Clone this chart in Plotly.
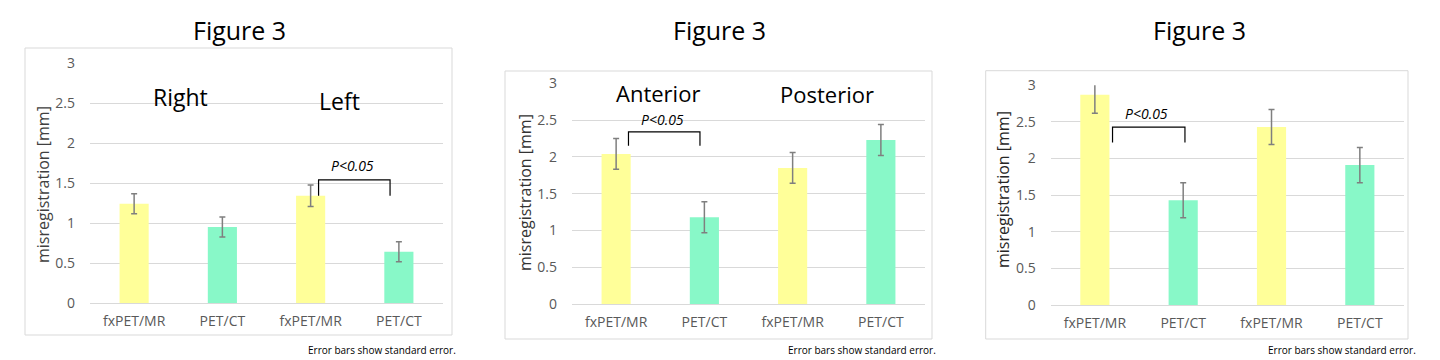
import plotly.graph_objects as go

categories = ["fxPET/MR", "PET/CT", "fxPET/MR", "PET/CT"]
bar_colors = ["#FFFF99", "#88F8C8", "#FFFF99", "#88F8C8"]

# Panel 1: Right / Left
p1_values = [1.24, 0.95, 1.34, 0.64]
p1_errors = [0.125, 0.125, 0.135, 0.125]
p1_groups = ["Right", "Left"]

# Panel 2: Anterior / Posterior
p2_values = [2.04, 1.18, 1.85, 2.23]
p2_errors = [0.21, 0.21, 0.21, 0.21]
p2_groups = ["Anterior", "Posterior"]

# Panel 3: Upper / Lower
p3_values = [2.87, 1.43, 2.43, 1.91]
p3_errors = [0.25, 0.24, 0.24, 0.24]
p3_groups = ["Upper", "Lower"]

y_ticks = [0, 0.5, 1, 1.5, 2, 2.5, 3]
y_tick_labels = ["0", "0.5", "1", "1.5", "2", "2.5", "3"]

FONT = "Open Sans"
W, H = 1440, 360

panels = [
    dict(values=p1_values, errors=p1_errors, groups=p1_groups,
         xdom=(90, 443), ydom=(303, 63), box=(25, 48, 452, 335),
         title_x=239, ytitle=(43, 185), ytitle_color="#404040",
         group_pos=[(0.53, 2.58), (2.33, 2.53)], group_size=23,
         bracket=(2.09, 2.9, 1.54, 1.34), p_pos=(2.48, 1.72),
         note_right=458),
    dict(values=p2_values, errors=p2_errors, groups=p2_groups,
         xdom=(572, 925), ydom=(304, 83.3), box=(505, 71, 932, 339),
         title_x=719, ytitle=(525, 193), ytitle_color="#333333",
         group_pos=[(0.48, 2.87), (2.39, 2.86)], group_size=22,
         bracket=(0.14, 0.95, 2.34, 2.15), p_pos=(0.53, 2.51),
         note_right=938),
    dict(values=p3_values, errors=p3_errors, groups=p3_groups,
         xdom=(1050.7, 1404), ydom=(305, 85.3), box=(985.7, 70.7, 1408, 339),
         title_x=1199, ytitle=(1003, 190), ytitle_color="#262626",
         group_pos=[(0.5, 3.22), (2.46, 3.16)], group_size=22,
         bracket=(0.2, 1.02, 2.43, 2.22), p_pos=(0.58, 2.62),
         note_right=1418),
]

fig = go.Figure()
fig.update_layout(template=go.layout.Template())
shapes = []
annotations = []

for i, p in enumerate(panels, start=1):
    xa = "x" if i == 1 else f"x{i}"
    ya = "y" if i == 1 else f"y{i}"
    fig.add_trace(go.Bar(
        x=list(range(len(categories))), y=p["values"],
        marker=dict(color=bar_colors, line=dict(width=0)),
        width=0.33,
        error_y=dict(type="data", array=p["errors"], visible=True,
                     color="#7F7F7F", thickness=1.5, width=3),
        xaxis=xa, yaxis=ya, showlegend=False, hoverinfo="skip",
    ))
    xkey = "xaxis" if i == 1 else f"xaxis{i}"
    ykey = "yaxis" if i == 1 else f"yaxis{i}"
    fig.update_layout(**{
        xkey: dict(domain=[p["xdom"][0] / W, p["xdom"][1] / W], anchor=ya,
                   range=[-0.5, 3.5], tickmode="array",
                   tickvals=list(range(len(categories))), ticktext=categories,
                   showgrid=False, zeroline=False, showline=False,
                   ticks="", ticklabelstandoff=8, automargin=False,
                   tickfont=dict(family=FONT, size=14, color="#595959"),
                   fixedrange=True),
        ykey: dict(domain=[1 - p["ydom"][0] / H, 1 - p["ydom"][1] / H], anchor=xa,
                   range=[0, 3], tickmode="array", tickvals=y_ticks,
                   ticktext=y_tick_labels, showgrid=True, gridcolor="#D9D9D9",
                   gridwidth=1, zeroline=True, zerolinecolor="#D9D9D9",
                   zerolinewidth=1, showline=False, ticks="",
                   ticklabelstandoff=14, automargin=False,
                   tickfont=dict(family=FONT, size=14, color="#595959"),
                   fixedrange=True),
    })
    # chart border
    x0, y0, x1, y1 = p["box"]
    shapes.append(dict(type="rect", xref="paper", yref="paper",
                       x0=x0 / W, x1=x1 / W, y0=1 - y1 / H, y1=1 - y0 / H,
                       line=dict(color="#D9D9D9", width=1), layer="below"))
    # bracket
    bx0, bx1, btop, bbot = p["bracket"]
    shapes.append(dict(type="path", xref=xa, yref=ya,
                       path=f"M {bx0},{bbot} L {bx0},{btop} L {bx1},{btop} L {bx1},{bbot}",
                       line=dict(color="#000000", width=1.2)))
    # title
    annotations.append(dict(text="Figure 3", xref="paper", yref="paper",
                            x=p["title_x"] / W, y=1 - 30 / H, showarrow=False,
                            xanchor="center", yanchor="middle",
                            font=dict(family=FONT, size=25, color="#000000")))
    # y-axis title
    annotations.append(dict(text="misregistration [mm]", xref="paper", yref="paper",
                            x=p["ytitle"][0] / W, y=1 - p["ytitle"][1] / H,
                            showarrow=False, textangle=-90,
                            xanchor="center", yanchor="middle",
                            font=dict(family=FONT, size=16, color=p["ytitle_color"])))
    # group labels
    for g, (gx, gy) in zip(p["groups"], p["group_pos"]):
        annotations.append(dict(text=g, xref=xa, yref=ya, x=gx, y=gy,
                                showarrow=False, xanchor="center", yanchor="middle",
                                font=dict(family=FONT, size=p["group_size"], color="#000000")))
    # p value
    annotations.append(dict(text="<i>P<0.05</i>", xref=xa, yref=ya,
                            x=p["p_pos"][0], y=p["p_pos"][1], showarrow=False,
                            xanchor="center", yanchor="middle",
                            font=dict(family=FONT, size=14, color="#000000")))
    # footnote
    annotations.append(dict(text="Error bars show standard error.", xref="paper", yref="paper",
                            x=p["note_right"] / W, y=1 - 350 / H, showarrow=False,
                            xanchor="right", yanchor="middle",
                            font=dict(family=FONT, size=10, color="#000000")))

fig.update_layout(
    width=W, height=H,
    margin=dict(l=0, r=0, t=0, b=0, pad=0, autoexpand=False),
    paper_bgcolor="#FFFFFF", plot_bgcolor="rgba(0,0,0,0)",
    shapes=shapes, annotations=annotations,
    bargap=0.67,
)

fig.write_html("out.html", config={"displayModeBar": False},
               post_script="document.body.style.margin='0';document.body.style.overflow='hidden';")
